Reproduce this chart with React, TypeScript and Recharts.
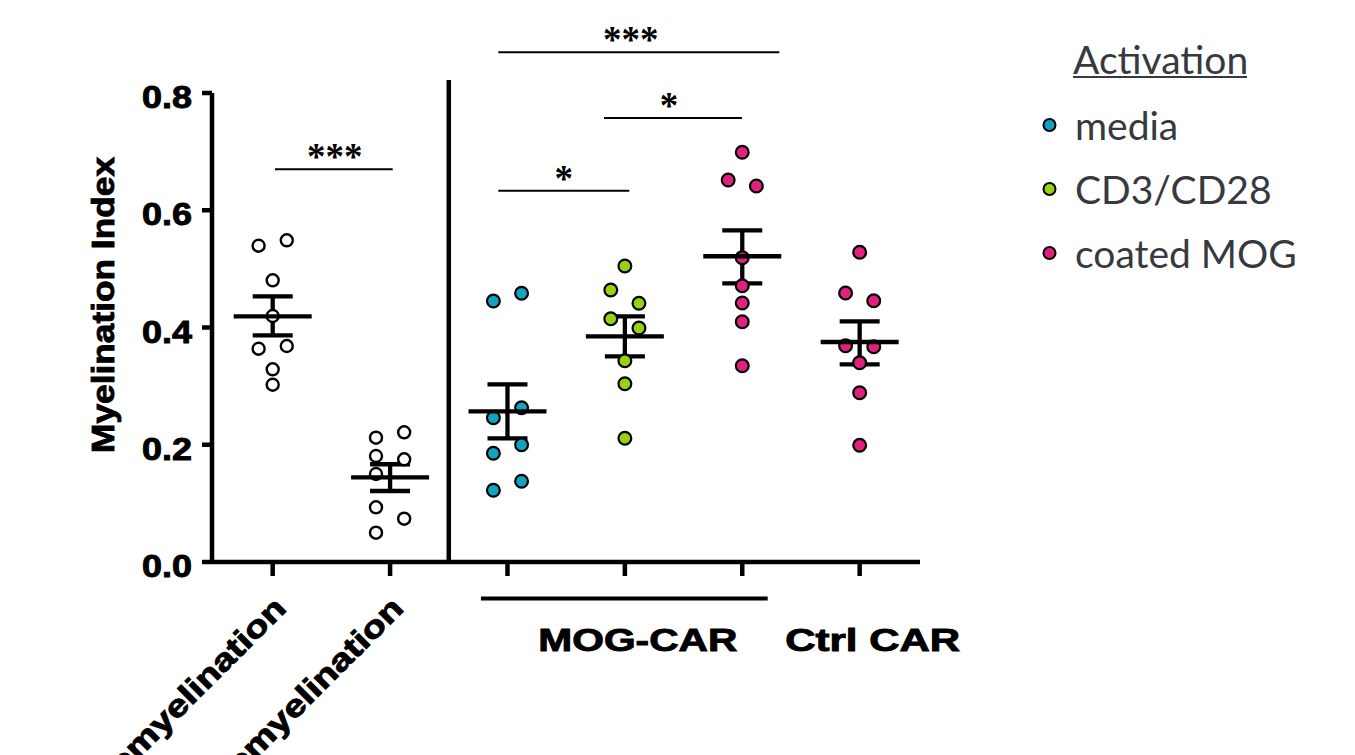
import React from 'react';
import { ScatterChart, Scatter, XAxis, YAxis, ErrorBar, ReferenceLine, Legend } from 'recharts';

const categories = ['Remyelination', 'Demyelination', 'media', 'CD3/CD28', 'coated MOG', 'Ctrl CAR'];
const xTicks = [1, 2, 3, 4, 5, 6];
const yTicks = [0, 0.2, 0.4, 0.6, 0.8];

// individual values per group and their jitter side (-1 left, 0 centre, 1 right)
const myelinationValues = [0.5395, 0.5487, 0.4805, 0.4196, 0.3638, 0.3684, 0.3287, 0.3024];
const myelinationSides = [-1, 1, 0, 0, -1, 1, 0, 0];
const demyelinationValues = [0.212, 0.2212, 0.1808, 0.1752, 0.1501, 0.0933, 0.0739, 0.05];
const demyelinationSides = [-1, 1, -1, 1, -1, -1, 1, -1];
const mediaValues = [0.4452, 0.4583, 0.2632, 0.2461, 0.2001, 0.1854, 0.1377, 0.1223];
const mediaSides = [-1, 1, 1, -1, 1, -1, 1, -1];
const cd3Values = [0.5049, 0.464, 0.4413, 0.415, 0.3991, 0.3434, 0.3041, 0.211];
const cd3Sides = [0, -1, 1, -1, 1, 0, 0, 0];
const mogValues = [0.6989, 0.6516, 0.6414, 0.5191, 0.4713, 0.4418, 0.4099, 0.3348];
const mogSides = [0, -1, 1, 0, 0, 0, 0, 0];
const ctrlValues = [0.5283, 0.4588, 0.4457, 0.369, 0.3672, 0.34, 0.2888, 0.1991];
const ctrlSides = [0, -1, 1, -1, 1, 0, 0, 0];

const meanValues = [0.4191, 0.1445, 0.2571, 0.385, 0.5215, 0.3753];
const semLowValues = [0.3867, 0.1211, 0.211, 0.3509, 0.4754, 0.3372];
const semHighValues = [0.4532, 0.1667, 0.3031, 0.4191, 0.5658, 0.4106];

const legendNames = ['media', 'CD3/CD28', 'coated MOG'];
const legendTitle = 'Activation';
const groupLabels = ['MOG-CAR', 'Ctrl CAR'];
const yTitle = 'Myelination Index';

const comparisons = [
  { from: 1.0196, to: 2.0222, y: 0.6698, label: '***', dx: 1 },
  { from: 2.9217, to: 5.3152, y: 0.8694, label: '***', dx: -8 },
  { from: 3.822, to: 4.9975, y: 0.7574, label: '*', dx: -4 },
  { from: 2.9217, to: 4.0375, y: 0.6333, label: '*', dx: 0 },
];
const divider = { x: 2.5, top: 0.8222 };
const bracket = { from: 2.7743, to: 5.2165, y: -0.0623 };

const BLUE = '#11A3C1';
const GREEN = '#97D212';
const PINK = '#E2207E';
const TEXT_GREY = '#36393D';
const JITTER = 0.12;
const BOLD_FONT = '"Liberation Sans", Arial, sans-serif';
const boldText = {
  fontFamily: BOLD_FONT,
  fontWeight: 'bold' as const,
  fill: '#000',
  stroke: '#000',
  strokeWidth: 0.9,
  lengthAdjust: 'spacingAndGlyphs',
};

const build = (values: number[], sides: number[], group: number) =>
  values.map((v, i) => ({ x: group + sides[i] * JITTER, y: v }));

const myelinationData = build(myelinationValues, myelinationSides, 1);
const demyelinationData = build(demyelinationValues, demyelinationSides, 2);
const mediaData = build(mediaValues, mediaSides, 3);
const cd3Data = build(cd3Values, cd3Sides, 4);
const mogData = build(mogValues, mogSides, 5);
const ctrlData = build(ctrlValues, ctrlSides, 6);
const meanData = meanValues.map((m, i) => ({
  x: i + 1,
  y: m,
  err: [m - semLowValues[i], semHighValues[i] - m],
}));

const dot = (fill: string, r: number, sw: number) => (props: any) => (
  <circle cx={props.cx} cy={props.cy} r={r} fill={fill} stroke="#000" strokeWidth={sw} />
);

const meanShape = (props: any) => (
  <line x1={props.cx - 39} x2={props.cx + 39} y1={props.cy} y2={props.cy} stroke="#000" strokeWidth={4.3} />
);

const YTick = (props: any) => {
  const { x, y, payload } = props;
  return (
    <text x={x - 50} y={y + 15} textLength={50} fontSize={31} {...boldText}>
      {Number(payload.value).toFixed(1)}
    </text>
  );
};

const XTick = (props: any) => {
  const { x, y, payload } = props;
  const v = payload.value;
  if (v === 1 || v === 2) {
    const ax = x + 15;
    const ay = y + 34;
    return (
      <text
        x={ax - 262}
        y={ay}
        textLength={262}
        transform={`rotate(-45 ${ax} ${ay})`}
        fontSize={31}
        {...boldText}
      >
        {categories[v - 1]}
      </text>
    );
  }
  if (v === 4 || v === 6) {
    const label = v === 4 ? groupLabels[0] : groupLabels[1];
    const len = v === 4 ? 199 : 175;
    return (
      <text x={x + 13 - len / 2} y={y + 75} textLength={len} fontSize={31} {...boldText}>
        {label}
      </text>
    );
  }
  return <g />;
};

const YTitle = () => (
  <text
    x={114 - 148}
    y={305}
    textLength={296}
    transform="rotate(-90 114 305)"
    fontSize={32}
    {...boldText}
  >
    {yTitle}
  </text>
);

const starLabel = (text: string, dx: number) => (props: any) => {
  const vb = props.viewBox || {};
  const cx = vb.x + vb.width / 2 + dx;
  return (
    <text x={cx} y={vb.y} textAnchor="middle" fontFamily='"Liberation Serif", serif' fontWeight="bold" fontSize={37} fill="#000">
      {text}
    </text>
  );
};

const legendColors = [BLUE, GREEN, PINK];

const LegendBox = () => (
  <svg width={320} height={260} style={{ display: 'block' }}>
    <text x={43} y={43.5} fontFamily="Lato, sans-serif" fontSize={39} fill={TEXT_GREY}>
      {legendTitle}
    </text>
    <line x1={43} x2={217} y1={47} y2={47} stroke={TEXT_GREY} strokeWidth={2} />
    {legendNames.map((n, i) => (
      <g key={n}>
        <circle cx={19.5} cy={95 + i * 64} r={6} fill={legendColors[i]} stroke="#000" strokeWidth={2} />
        <text x={45} y={110 + i * 64} fontFamily="Lato, sans-serif" fontSize={39} fill={TEXT_GREY}>
          {n}
        </text>
      </g>
    ))}
  </svg>
);

export default function App() {
  return (
    <div style={{ position: 'absolute', left: 0, top: 0, width: 1355, height: 755, background: '#fff' }}>
      <ScatterChart width={1355} height={755} margin={{ top: 93, right: 435, bottom: 133, left: 0 }}>
        <XAxis
          type="number"
          dataKey="x"
          domain={[0.483, 6.514]}
          ticks={xTicks}
          allowDataOverflow
          interval={0}
          height={60}
          tickSize={14}
          tickMargin={0}
          axisLine={{ stroke: '#000', strokeWidth: 4.5 }}
          tickLine={{ stroke: '#000', strokeWidth: 4.5 }}
          tick={<XTick />}
        />
        <YAxis
          type="number"
          dataKey="y"
          domain={[0, 0.8]}
          ticks={yTicks}
          allowDataOverflow
          width={212}
          tickSize={10}
          tickMargin={10}
          axisLine={{ stroke: '#000', strokeWidth: 4.5 }}
          tickLine={{ stroke: '#000', strokeWidth: 4.5 }}
          tick={<YTick />}
          label={<YTitle />}
        />
        <Legend
          layout="vertical"
          align="center"
          verticalAlign="middle"
          wrapperStyle={{ left: 1030, top: 30, width: 320, height: 260 }}
          content={() => <LegendBox />}
        />
        <Scatter name="Remyelination" data={myelinationData} shape={dot('#fff', 6, 2.4)} isAnimationActive={false} legendType="none" />
        <Scatter name="Demyelination" data={demyelinationData} shape={dot('#fff', 6, 2.4)} isAnimationActive={false} legendType="none" />
        <Scatter name="media" data={mediaData} shape={dot(BLUE, 6.4, 2.2)} isAnimationActive={false} />
        <Scatter name="CD3/CD28" data={cd3Data} shape={dot(GREEN, 6.4, 2.2)} isAnimationActive={false} />
        <Scatter name="coated MOG" data={mogData} shape={dot(PINK, 6.4, 2.2)} isAnimationActive={false} />
        <Scatter name="Ctrl CAR" data={ctrlData} shape={dot(PINK, 6.4, 2.2)} isAnimationActive={false} legendType="none" />
        <Scatter name="mean" data={meanData} shape={meanShape} isAnimationActive={false} legendType="none">
          <ErrorBar dataKey="err" direction="y" width={20} strokeWidth={4.3} stroke="#000" isAnimationActive={false} />
        </Scatter>
        <ReferenceLine
          segment={[{ x: divider.x, y: 0 }, { x: divider.x, y: divider.top }]}
          stroke="#000"
          strokeWidth={4.5}
          ifOverflow="visible"
        />
        <ReferenceLine
          segment={[{ x: bracket.from, y: bracket.y }, { x: bracket.to, y: bracket.y }]}
          stroke="#000"
          strokeWidth={4}
          ifOverflow="visible"
        />
        {comparisons.map((c, i) => (
          <ReferenceLine
            key={i}
            segment={[{ x: c.from, y: c.y }, { x: c.to, y: c.y }]}
            stroke="#000"
            strokeWidth={2}
            ifOverflow="visible"
            label={starLabel(c.label, c.dx)}
          />
        ))}
      </ScatterChart>
    </div>
  );
}
